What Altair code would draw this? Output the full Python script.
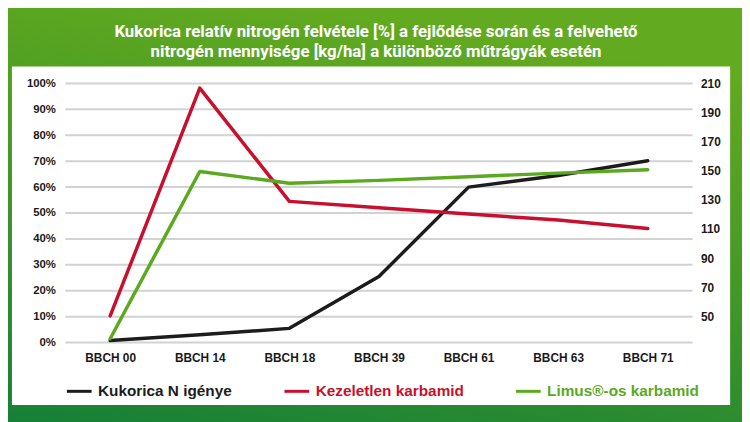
import altair as alt
import pandas as pd

stages = ["BBCH 00", "BBCH 14", "BBCH 18", "BBCH 39", "BBCH 61", "BBCH 63", "BBCH 71"]
kukorica = [0.8, 3, 5.5, 25.5, 60, 64.5, 70.2]
kezeletlen = [10.3, 98.2, 54.5, 52, 49.6, 47.3, 44]
limus = [1.5, 66, 61.5, 62.6, 64, 65.4, 66.7]
series_names = ["Kukorica N igénye", "Kezeletlen karbamid", "Limus®-os karbamid"]
series_colors = ["#1c1c1c", "#c8102e", "#5aa91e"]
left_ticks = [0, 10, 20, 30, 40, 50, 60, 70, 80, 90, 100]
right_ticks = [50, 70, 90, 110, 130, 150, 170, 190, 210]
title_lines = ["Kukorica relatív nitrogén felvétele [%] a fejlődése során és a felvehető",
               "nitrogén mennyisége [kg/ha] a különböző műtrágyák esetén"]

FONT = "Liberation Sans, Arial"
TFONT = "Roboto, Liberation Sans, Arial"

rows = []
for name, vals in zip(series_names, [kukorica, kezeletlen, limus]):
    for s, v in zip(stages, vals):
        rows.append({"stage": s, "series": name, "value": v})
df = pd.DataFrame(rows)

xscale = alt.Scale(domain=stages, padding=0.5)
yscale = alt.Scale(domain=[0, 100], nice=False)

one = pd.DataFrame({"a": [0]})

bg = alt.Chart(one).mark_rect(
    fill=alt.Gradient(
        gradient="linear",
        stops=[alt.GradientStop(offset=0, color="#62aa1f"),
               alt.GradientStop(offset=0.45, color="#3f9627"),
               alt.GradientStop(offset=1, color="#0b7a3c")],
        x1=0.3, y1=0, x2=0, y2=1,
    )
).encode(x=alt.value(-80), x2=alt.value(800), y=alt.value(-90), y2=alt.value(400))

panel = alt.Chart(one).mark_rect(fill="white").encode(
    x=alt.value(-54), x2=alt.value(672), y=alt.value(-17), y2=alt.value(325)
)

title = alt.Chart(pd.DataFrame({"t": ["\n".join(title_lines)]})).mark_text(
    lineBreak="\n", lineHeight=20, align="center", baseline="alphabetic",
    font=TFONT, fontSize=17, fontWeight="bold", color="white",
).encode(text="t:N", x=alt.value(314), y=alt.value(-47))

grid = alt.Chart(pd.DataFrame({"t": left_ticks})).mark_rule(
    color="#d2d2d2", strokeWidth=2
).encode(
    y=alt.Y("t:Q", scale=yscale, axis=None),
    x=alt.value(0), x2=alt.value(634),
)

right_axis = alt.Chart(pd.DataFrame({"kg": right_ticks})).mark_point(opacity=0).encode(
    x=alt.value(0),
    y=alt.Y("kg:Q", scale=alt.Scale(domain=[32, 210], nice=False),
            axis=alt.Axis(orient="right", values=right_ticks, title=None, grid=False,
                          domain=False, ticks=False, labelPadding=8, labelFontSize=12,
                          labelFont=FONT, labelFontWeight="bold", labelColor="#1a1a1a",
                          zindex=1)),
)

color_expr = ("datum.value === '%s' ? '%s' : datum.value === '%s' ? '%s' : '%s'"
              % (series_names[0], series_colors[0], series_names[1], series_colors[1],
                 series_colors[2]))

lines = alt.Chart(df).mark_line(strokeWidth=3.5, strokeCap="round", strokeJoin="round").encode(
    x=alt.X("stage:N", scale=xscale, sort=stages,
            axis=alt.Axis(title=None, labelAngle=0, domain=False, ticks=False, grid=False,
                          labelPadding=10, labelFontSize=12, labelFont=FONT,
                          labelFontWeight="bold", labelColor="#1a1a1a", zindex=1)),
    y=alt.Y("value:Q", scale=yscale,
            axis=alt.Axis(values=left_ticks, title=None, grid=False, domain=False, ticks=False,
                          labelExpr="datum.value + '%'", labelPadding=10, labelFontSize=11.5,
                          labelFont=FONT, labelFontWeight="bold", labelColor="#1a1a1a",
                          zindex=1)),
    color=alt.Color("series:N",
                    scale=alt.Scale(domain=series_names, range=series_colors),
                    legend=alt.Legend(
                        title=None, orient="none", direction="horizontal",
                        legendX=0, legendY=297, symbolType="stroke",
                        symbolStrokeWidth=3, symbolSize=625, labelFontSize=15.5,
                        labelFont=FONT, labelFontWeight="bold", columnPadding=46,
                        labelOffset=5, zindex=1, labelLimit=300,
                        labelColor=alt.ExprRef(color_expr),
                    )),
    detail="series:N",
)

chart = alt.layer(bg, panel, title, grid, right_axis, lines).resolve_scale(
    y="independent"
).properties(
    width=634, height=262,
    autosize=alt.AutoSizeParams(type="none"),
    padding={"left": 58, "top": 74, "right": 50, "bottom": 78},
    background="#0b7a3c",
).configure_view(stroke=None)

chart.save("out.html", embed_options={"renderer": "svg", "actions": False})
